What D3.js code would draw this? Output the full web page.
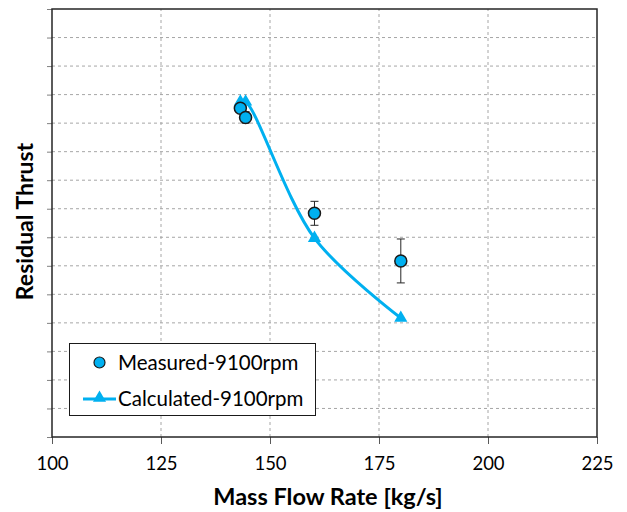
<!DOCTYPE html>
<html>
<head>
<meta charset="utf-8">
<script src="https://cdn.jsdelivr.net/npm/d3@7"></script>
<style>
body { margin: 0; background: #fff; }
svg text { font-family: Lato, "Open Sans", sans-serif; fill: #000; }
</style>
</head>
<body>
<svg id="chart" width="627" height="512"></svg>
<script>
// measured points
var measFlow = [143.2, 144.4, 160.2, 180.0]
var measThrust = [11.52, 11.2, 7.84, 6.17]
var measErr = [0.12, 0.2, 0.42, 0.77]
// calculated curve
var calcFlow = [143.2, 144.4, 160.2, 180.0]
var calcThrust = [11.75, 11.75, 6.97, 4.17]
var xTicks = [100, 125, 150, 175, 200, 225]
var yTicks = d3.range(0, 16)

var blue = "#00b0f0"
var margin = {left: 52, right: 30, top: 9, bottom: 75}
var W = 627, H = 512
var svg = d3.select("#chart")

var x = d3.scaleLinear().domain([100, 225]).range([margin.left, W - margin.right])
var y = d3.scaleLinear().domain([0, 15]).range([H - margin.bottom, margin.top])

// gridlines
svg.append("g")
	.selectAll("line.h")
	.data(yTicks.slice(1, -1))
	.enter().append("line")
	.attr("x1", x(100)).attr("x2", x(225))
	.attr("y1", function(d){ return y(d) }).attr("y2", function(d){ return y(d) })
	.attr("stroke", "#a6a6a6").attr("stroke-width", 1).attr("stroke-dasharray", "3,3")
svg.append("g")
	.selectAll("line.v")
	.data(xTicks.slice(1, -1))
	.enter().append("line")
	.attr("y1", y(0)).attr("y2", y(15))
	.attr("x1", function(d){ return x(d) }).attr("x2", function(d){ return x(d) })
	.attr("stroke", "#a6a6a6").attr("stroke-width", 1).attr("stroke-dasharray", "3,3")

// axes
var xAxis = svg.append("g")
	.attr("transform", "translate(0," + y(0) + ")")
	.call(d3.axisBottom(x).tickValues(xTicks).tickSize(7).tickPadding(13))
xAxis.select(".domain").remove()
xAxis.selectAll("line").attr("stroke", "#595959")
xAxis.selectAll("text").attr("font-size", "18.5px").attr("font-family", "Lato, sans-serif")

var yAxis = svg.append("g")
	.attr("transform", "translate(" + x(100) + ",0)")
	.call(d3.axisLeft(y).tickValues(yTicks).tickSize(5).tickFormat(""))
yAxis.select(".domain").remove()
yAxis.selectAll("line").attr("stroke", "#808080")

// frame
svg.append("rect")
	.attr("x", x(100)).attr("y", y(15))
	.attr("width", x(225) - x(100)).attr("height", y(0) - y(15))
	.attr("fill", "none").attr("stroke", "#262626").attr("stroke-width", 1.5)

// calculated line
var pts = calcFlow.map(function(d, i){ return [x(d), y(calcThrust[i])] })
svg.append("path")
	.datum(pts)
	.attr("d", d3.line().curve(d3.curveCatmullRom.alpha(0.5)))
	.attr("fill", "none").attr("stroke", blue).attr("stroke-width", 3)
var tri = d3.symbol().type(d3.symbolTriangle).size(75)
svg.append("g")
	.selectAll("path")
	.data(pts)
	.enter().append("path")
	.attr("d", tri)
	.attr("transform", function(d){ return "translate(" + d[0] + "," + d[1] + ")" })
	.attr("fill", blue)

// measured error bars + points
var eb = svg.append("g").attr("stroke", "#262626").attr("stroke-width", 1)
measFlow.forEach(function(f, i){
	var cx = x(f), lo = y(measThrust[i] - measErr[i]), hi = y(measThrust[i] + measErr[i])
	eb.append("line").attr("x1", cx).attr("x2", cx).attr("y1", lo).attr("y2", hi)
	eb.append("line").attr("x1", cx - 4).attr("x2", cx + 4).attr("y1", lo).attr("y2", lo)
	eb.append("line").attr("x1", cx - 4).attr("x2", cx + 4).attr("y1", hi).attr("y2", hi)
})
svg.append("g")
	.selectAll("circle")
	.data(measFlow)
	.enter().append("circle")
	.attr("cx", function(d){ return x(d) })
	.attr("cy", function(d, i){ return y(measThrust[i]) })
	.attr("r", 6)
	.attr("fill", blue).attr("stroke", "#1a1a1a").attr("stroke-width", 1.5)

// legend
var lg = svg.append("g")
lg.append("rect").attr("x", 69.5).attr("y", 343.5).attr("width", 246).attr("height", 72)
	.attr("fill", "#fff").attr("stroke", "#1a1a1a").attr("stroke-width", 1)
lg.append("circle").attr("cx", 99.5).attr("cy", 362.5).attr("r", 5.5)
	.attr("fill", blue).attr("stroke", "#1a1a1a").attr("stroke-width", 1.2)
lg.append("text").attr("x", 118).attr("y", 369.5).attr("font-size", "20.5px").text("Measured-9100rpm")
lg.append("line").attr("x1", 83).attr("x2", 116).attr("y1", 399).attr("y2", 399)
	.attr("stroke", blue).attr("stroke-width", 3)
lg.append("path").attr("d", tri).attr("transform", "translate(99.5,398)").attr("fill", blue)
lg.append("text").attr("x", 118).attr("y", 405.5).attr("font-size", "20.5px").text("Calculated-9100rpm")

// axis titles
svg.append("text")
	.attr("x", 328).attr("y", 505)
	.attr("text-anchor", "middle").attr("font-size", "23.5px").attr("font-weight", "bold")
	.text("Mass Flow Rate [kg/s]")
svg.append("text")
	.attr("transform", "translate(33,221.5) rotate(-90)")
	.attr("text-anchor", "middle").attr("font-size", "23px").attr("font-weight", "bold")
	.text("Residual Thrust")
</script>
</body>
</html>
